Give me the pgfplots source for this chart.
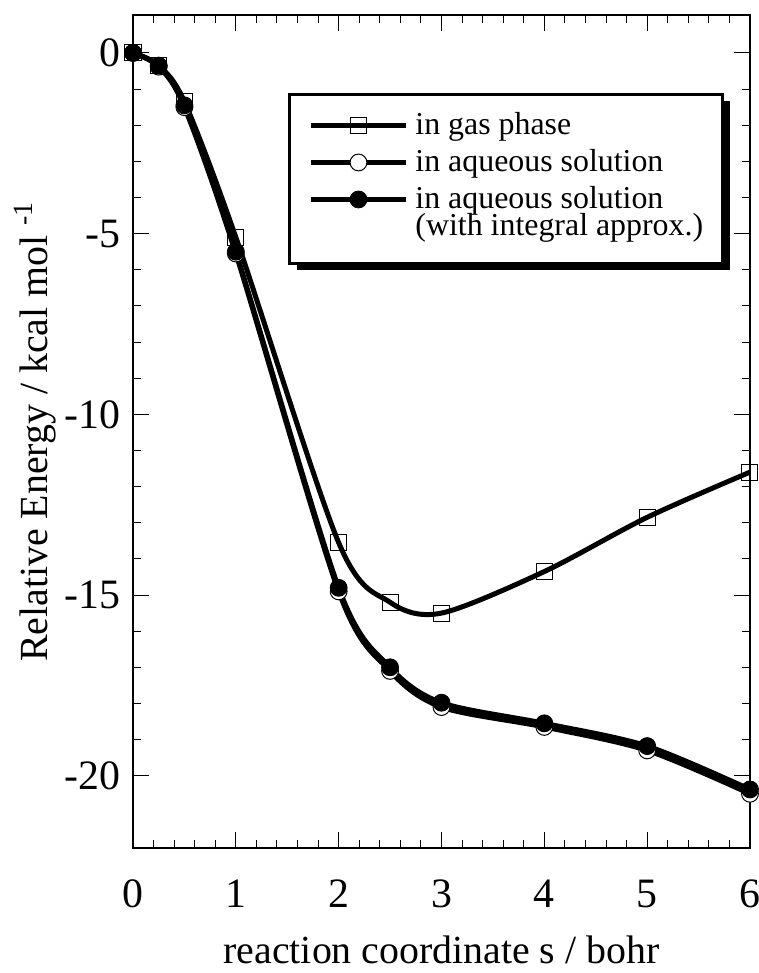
\documentclass[border=0pt]{standalone}
\usepackage{fontspec}
\setmainfont{Liberation Serif}
\usepackage{pgfplots}
\pgfplotsset{compat=1.18}
\usetikzlibrary{shadows}
% the legend box shadow must not reach the legend images
\makeatletter
\tikzset{no actions/.code={\let\tikz@preactions\pgfutil@empty\let\tikz@postactions\pgfutil@empty}}
\makeatother

\begin{document}
\begin{tikzpicture}
\useasboundingbox (-66.5bp,-62.5bp) rectangle (313bp,424bp);
\begin{axis}[
    at={(0,0)}, anchor=south west,
    scale only axis, width=308.5bp, height=416.5bp,
    xmin=0, xmax=6, ymin=-22, ymax=1.05,
    xtick={0,...,6}, minor x tick num=4,
    ytick={-20,-15,...,0}, minor y tick num=4,
    tick align=inside,
    major tick length=8bp, minor tick length=4bp,
    every tick/.style={black, line width=0.5bp},
    axis line style={line width=0.6bp},
    /pgf/number format/assume math mode=true,
    tick label style={font=\fontsize{21}{21}\selectfont},
    xticklabel style={yshift=-12.5bp},
    yticklabel style={xshift=-3bp},
    label style={font=\fontsize{20}{20}\selectfont},
    xlabel={reaction coordinate s / bohr},
    ylabel={Relative Energy / kcal mol \textsuperscript{-1}},
    xlabel style={at={(rel axis cs:0.5,-0.122)}, anchor=center},
    ylabel style={at={(rel axis cs:-0.1588,0.5)}, anchor=center},
    clip=false,
    legend image code/.code={
        \draw[no actions,mark repeat=2,mark phase=2,#1] plot coordinates {(0bp,4.5bp) (23.75bp,4.5bp) (47.5bp,4.5bp)};
        \path[no actions] (51bp,4.5bp);},
    legend cell align=left,
    legend style={font=\fontsize{16}{16}\selectfont, draw=black, line width=1.5bp, fill=white,
        at={(rel axis cs:0.2512,0.9064)}, anchor=north west,
        inner xsep=9.5bp, inner ysep=5bp, row sep=0pt,
        nodes={inner sep=0pt, anchor=base west},
        cells={anchor=base west},
        drop shadow={shadow xshift=4bp, shadow yshift=-3.5bp, fill=black, opacity=1}},
]
% gas phase
\addplot[black, line width=2.5bp, smooth, mark=square, mark size=4bp,
    mark options={line width=0.5bp}] coordinates {
    (0,0) (0.25,-0.35) (0.5,-1.35) (1,-5.1) (2,-13.55) (2.5,-15.2)
    (3,-15.5) (4,-14.35) (5,-12.85) (6,-11.6)};
\addlegendentry[text height=15bp, text depth=4bp]{in gas phase}
% aqueous solution
\addplot[black, line width=2.5bp, smooth, mark=*, mark size=4.2bp,
    mark options={fill=white, line width=0.5bp}] coordinates {
    (0,0) (0.25,-0.38) (0.5,-1.5) (1,-5.55) (2,-14.9) (2.5,-17.1)
    (3,-18.1) (4,-18.65) (5,-19.3) (6,-20.5)};
\addlegendentry[text height=14.5bp, text depth=4bp]{in aqueous solution}
% aqueous solution, integral approx.
\addplot[black, line width=2.5bp, smooth, mark=*, mark size=4.2bp,
    mark options={fill=black, line width=0.5bp}] coordinates {
    (0,0) (0.25,-0.35) (0.5,-1.45) (1,-5.5) (2,-14.8) (2.5,-17.0)
    (3,-17.98) (4,-18.55) (5,-19.18) (6,-20.38)};
\addlegendentry[text height=14.5bp, text depth=4bp]{in aqueous solution}
\addlegendimage{empty legend}
\addlegendentry[text height=9.5bp, text depth=9bp]{(with integral approx.)}
\end{axis}
\end{tikzpicture}
\end{document}
